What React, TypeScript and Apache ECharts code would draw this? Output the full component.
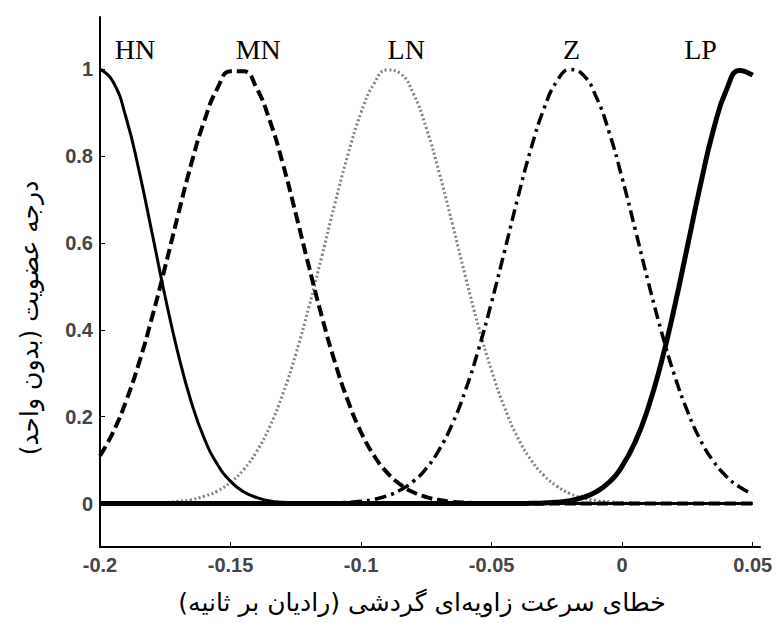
import React, { useEffect, useRef } from "react";
import * as echarts from "echarts";

// x sample positions (rad/s)
const xs = [
  -0.2, -0.195, -0.19, -0.185, -0.18, -0.175, -0.17, -0.165, -0.16, -0.155,
  -0.15, -0.145, -0.14, -0.135, -0.13, -0.125, -0.12, -0.115, -0.11, -0.105,
  -0.1, -0.095, -0.09, -0.085, -0.08, -0.075, -0.07, -0.065, -0.06, -0.055,
  -0.05, -0.045, -0.04, -0.035, -0.03, -0.025, -0.02, -0.015, -0.01, -0.005,
  0, 0.005, 0.01, 0.015, 0.02, 0.025, 0.03, 0.035, 0.04, 0.045, 0.05,
];

const hnValues = [
  1, 0.971, 0.888, 0.765, 0.621, 0.475, 0.343, 0.233, 0.149, 0.09,
  0.051, 0.027, 0.014, 0.006, 0.003, 0.001, 0, 0, 0, 0,
  0, 0, 0, 0, 0, 0, 0, 0, 0, 0,
  0, 0, 0, 0, 0, 0, 0, 0, 0, 0,
  0, 0, 0, 0, 0, 0, 0, 0, 0, 0, 0,
];

const mnValues = [
  0.11, 0.164, 0.236, 0.325, 0.43, 0.546, 0.667, 0.783, 0.882, 0.956,
  0.995, 0.995, 0.956, 0.882, 0.783, 0.667, 0.546, 0.43, 0.325, 0.236,
  0.164, 0.11, 0.071, 0.044, 0.026, 0.015, 0.008, 0.004, 0.002, 0.001,
  0, 0, 0, 0, 0, 0, 0, 0, 0, 0,
  0, 0, 0, 0, 0, 0, 0, 0, 0, 0, 0,
];

const lnValues = [
  0, 0, 0, 0.0006, 0.0012, 0.0025, 0.005, 0.009, 0.017, 0.029,
  0.049, 0.078, 0.12, 0.177, 0.252, 0.344, 0.452, 0.57, 0.691, 0.804,
  0.9, 0.967, 0.998, 0.99, 0.944, 0.864, 0.76, 0.643, 0.522, 0.407,
  0.306, 0.22, 0.152, 0.101, 0.065, 0.04, 0.023, 0.013, 0.007, 0.004,
  0.002, 0.001, 0, 0, 0, 0, 0, 0, 0, 0, 0,
];

const zValues = [
  0, 0, 0, 0, 0, 0, 0, 0, 0, 0,
  0, 0, 0, 0, 0, 0, 0, 0.0006, 0.0013, 0.0027,
  0.0053, 0.0098, 0.0177, 0.031, 0.051, 0.081, 0.125, 0.184, 0.261, 0.355,
  0.464, 0.582, 0.703, 0.815, 0.908, 0.972, 0.999, 0.987, 0.937, 0.855,
  0.749, 0.631, 0.51, 0.397, 0.296, 0.213, 0.146, 0.097, 0.062, 0.038, 0.022,
];

const lpValues = [
  0, 0, 0, 0, 0, 0, 0, 0, 0, 0,
  0, 0, 0, 0, 0, 0, 0, 0, 0, 0,
  0, 0, 0, 0, 0, 0, 0, 0, 0, 0,
  0, 0, 0, 0.0005, 0.0013, 0.003, 0.0066, 0.014, 0.027, 0.049,
  0.086, 0.142, 0.221, 0.325, 0.451, 0.592, 0.734, 0.861, 0.953, 0.997, 0.986,
];

// fuzzy set names and where they are written (data coordinates)
const setNames = ["HN", "MN", "LN", "Z", "LP"];
const setLabelX = [-0.1866, -0.1394, -0.0827, -0.0194, 0.03];
const setLabelY = [1.046, 1.046, 1.046, 1.046, 1.046];

const xTicks = [-0.2, -0.15, -0.1, -0.05, 0, 0.05];
const xTickLabels = ["-0.2", "-0.15", "-0.1", "-0.05", "0", "0.05"];
const yTicks = [0, 0.2, 0.4, 0.6, 0.8, 1];
const yTickLabels = ["0", "0.2", "0.4", "0.6", "0.8", "1"];

const xTitle = "\u200Fخطای سرعت زاویه‌ای گردشی (رادیان بر ثانیه)\u200F";
const yTitle = "\u200Fدرجه عضویت (بدون واحد)\u200F";

const pair = (vals: number[]) => xs.map((x, i) => [x, vals[i]]);

export default function App() {
  const ref = useRef<HTMLDivElement>(null);

  useEffect(() => {
    if (!ref.current) return;
    const chart = echarts.init(ref.current, undefined, { renderer: "svg" });

    const fmt = (ticks: number[], labels: string[]) => (v: number) => {
      let best = 0;
      for (let i = 1; i < ticks.length; i++) {
        if (Math.abs(ticks[i] - v) < Math.abs(ticks[best] - v)) best = i;
      }
      return labels[best];
    };

    const base = {
      type: "line",
      showSymbol: false,
      symbol: "none",
      smooth: true,
      silent: true,
    };

    chart.setOption({
      animation: false,
      backgroundColor: "#ffffff",
      grid: { left: 100, right: 16, top: 17, bottom: 76 },
      graphic: [
        {
          type: "text",
          x: 422,
          y: 602,
          style: {
            text: xTitle,
            fontFamily: "DejaVu Sans",
            fontSize: 25,
            fill: "#000",
            textAlign: "center",
            textVerticalAlign: "middle",
          },
        },
        {
          type: "text",
          x: 29,
          y: 318,
          rotation: Math.PI / 2,
          style: {
            text: yTitle,
            fontFamily: "DejaVu Sans",
            fontSize: 25,
            fill: "#000",
            textAlign: "center",
            textVerticalAlign: "middle",
          },
        },
      ],
      xAxis: {
        type: "value",
        min: -0.2,
        max: 0.0528,
        axisLine: { onZero: false, lineStyle: { color: "#000", width: 2 } },
        axisTick: {
          inside: true,
          length: 5,
          customValues: xTicks,
          lineStyle: { color: "#000", width: 1 },
        },
        axisLabel: {
          customValues: xTicks,
          formatter: fmt(xTicks, xTickLabels),
          margin: 8,
          fontFamily: "Liberation Sans",
          fontSize: 20,
          fontWeight: "bold",
          color: "#444",
        },
        splitLine: { show: false },
      },
      yAxis: {
        type: "value",
        min: -0.1,
        max: 1.12,
        axisLine: { show: true, onZero: false, lineStyle: { color: "#000", width: 2 } },
        axisTick: {
          show: true,
          inside: true,
          length: 5,
          customValues: yTicks,
          lineStyle: { color: "#000", width: 1 },
        },
        axisLabel: {
          customValues: yTicks,
          formatter: fmt(yTicks, yTickLabels),
          margin: 7,
          fontFamily: "Liberation Sans",
          fontSize: 20,
          fontWeight: "bold",
          color: "#444",
        },
        splitLine: { show: false },
      },
      series: [
        {
          ...base,
          name: "LN",
          data: pair(lnValues),
          lineStyle: { color: "#808080", width: 3, type: [2, 2.5] },
          z: 2,
        },
        {
          ...base,
          name: "MN",
          data: pair(mnValues),
          lineStyle: { color: "#000", width: 4, type: [11, 5] },
          z: 3,
        },
        {
          ...base,
          name: "Z",
          data: pair(zValues),
          lineStyle: { color: "#000", width: 3.5, type: [12, 5, 3, 5] },
          z: 3,
        },
        {
          ...base,
          name: "HN",
          data: pair(hnValues),
          lineStyle: { color: "#000", width: 3 },
          z: 4,
        },
        {
          ...base,
          name: "LP",
          data: pair(lpValues),
          lineStyle: { color: "#000", width: 5 },
          z: 5,
        },
        {
          type: "scatter",
          name: "labels",
          silent: true,
          symbolSize: 0,
          itemStyle: { opacity: 1, color: "#000" },
          data: setNames.map((n, i) => ({ value: [setLabelX[i], setLabelY[i]], name: n })),
          label: {
            show: true,
            position: "inside",
            formatter: (p: any) => p.name,
            fontFamily: "Liberation Serif",
            fontSize: 28,
            color: "#000",
            opacity: 1,
            textBorderWidth: 0,
          },
          z: 6,
        },
      ],
    });

    return () => chart.dispose();
  }, []);

  return (
    <div
      ref={ref}
      style={{ position: "fixed", left: 0, top: 0, width: 776, height: 623, background: "#fff" }}
    />
  );
}
